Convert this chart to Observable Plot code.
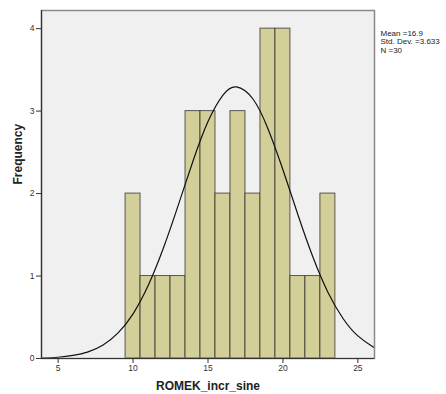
<!DOCTYPE html>
<html>
<head>
<meta charset="utf-8">
<script src="https://cdn.jsdelivr.net/npm/d3@7"></script>
<script src="https://cdn.jsdelivr.net/npm/@observablehq/plot@0.6"></script>
<style>
  html, body { margin: 0; padding: 0; background: #ffffff; }
  #chart { width: 446px; height: 394px; }
</style>
</head>
<body>
<div id="chart"></div>
<script>
// Histogram bins (width 1) and their frequencies
const binStart = [9.5, 10.5, 11.5, 12.5, 13.5, 14.5, 15.5, 16.5, 17.5, 18.5, 19.5, 20.5, 21.5, 22.5];
const binEnd   = [10.5, 11.5, 12.5, 13.5, 14.5, 15.5, 16.5, 17.5, 18.5, 19.5, 20.5, 21.5, 22.5, 23.5];
const counts   = [2, 1, 1, 1, 3, 3, 2, 3, 2, 4, 4, 1, 1, 2];

// Fitted normal curve
const curveX = [3.9, 4, 5, 6, 7, 8, 9, 10, 11, 12, 13, 14, 15, 16, 16.9, 18, 19, 20, 21, 22, 23, 24, 25, 26, 26.1];
const curveY = [0.006, 0.006, 0.015, 0.037, 0.080, 0.164, 0.310, 0.542, 0.881, 1.327, 1.851, 2.395, 2.873, 3.195, 3.294, 3.147, 2.787, 2.289, 1.743, 1.230, 0.804, 0.488, 0.274, 0.143, 0.134];

const xTicks = [5, 10, 15, 20, 25];
const yTicks = [0, 1, 2, 3, 4];
const statLabels = ["Mean =16.9", "Std. Dev. =3.633", "N =30"];
const xTitle = "ROMEK_incr_sine";
const yTitle = "Frequency";

const bins = binStart.map((s, i) => ({x1: s, x2: binEnd[i], y: counts[i]}));
const curve = curveX.map((x, i) => ({x, y: curveY[i]}));

const font = "'Liberation Sans', Arial, sans-serif";

const chart = Plot.plot({
  width: 446,
  height: 394,
  marginLeft: 41,
  marginRight: 72,
  marginTop: 10,
  marginBottom: 36,
  style: {fontFamily: font, background: "#ffffff", overflow: "visible"},
  x: {domain: [3.89, 26.11]},
  y: {domain: [0, 4.22]},
  marks: [
    Plot.frame({fill: "#F0F0F0", stroke: null}),
    Plot.rect(bins, {x1: "x1", x2: "x2", y1: 0, y2: "y", fill: "#D3CF98", stroke: "#2a2a2a", strokeOpacity: 0.75, strokeWidth: 1, inset: 0}),
    Plot.line(curve, {x: "x", y: "y", curve: "natural", stroke: "#111", strokeWidth: 1.2, clip: true}),
    Plot.frame({stroke: "#8a8a8a", strokeWidth: 1.5}),
    Plot.ruleY([0], {stroke: "#333", strokeWidth: 1.2}),
    Plot.ruleX([3.89], {stroke: "#333", strokeWidth: 1.2}),
    Plot.axisX({ticks: xTicks, tickFormat: "d", tickSize: 5, tickPadding: 1, label: null, fontSize: 8.5, color: "#333", stroke: "#333"}),
    Plot.axisY({ticks: yTicks, tickFormat: "d", tickSize: 5, tickPadding: 2, label: null, fontSize: 8.5, color: "#333", stroke: "#333"}),
    Plot.text([xTitle], {frameAnchor: "bottom", dy: 31, fontSize: 12, fontWeight: "bold", fill: "#222"}),
    Plot.text([yTitle], {frameAnchor: "left", dx: -23, rotate: -90, fontSize: 12, fontWeight: "bold", fill: "#222"}),
    ...statLabels.map((s, i) =>
      Plot.text([s], {frameAnchor: "top-right", dx: 6, dy: 20 + i * 8.2, textAnchor: "start", fontSize: 8, fill: "#222"})
    )
  ]
});
document.getElementById("chart").appendChild(chart);
</script>
</body>
</html>
